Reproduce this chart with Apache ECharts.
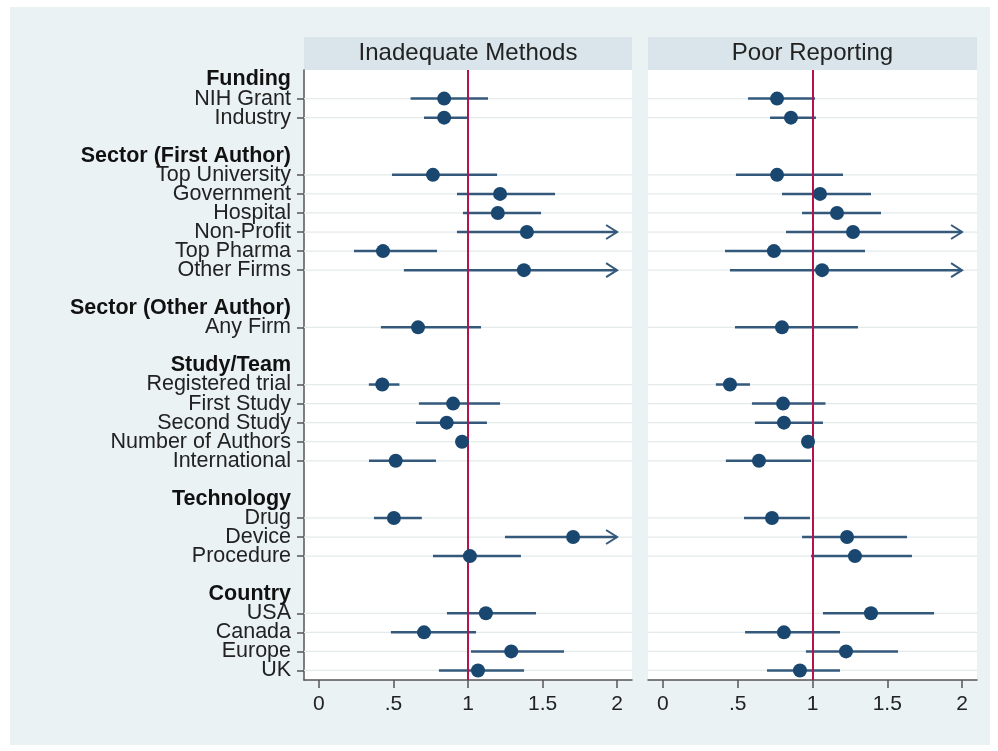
<!DOCTYPE html>
<html>
<head>
<meta charset="utf-8">
<script src="https://cdn.jsdelivr.net/npm/echarts@6/dist/echarts.min.js"></script>
<style>
html,body{margin:0;padding:0;background:#fff;}
#chart{width:998px;height:751px;}
</style>
</head>
<body>
<div id="chart"></div>
<script>
// ---- data ----
const panelTitles = ['Inadequate Methods', 'Poor Reporting'];
const groupNames = ['Funding', 'Sector (First Author)', 'Sector (Other Author)', 'Study/Team', 'Technology', 'Country'];
const groupItems = [
  ['NIH Grant', 'Industry'],
  ['Top University', 'Government', 'Hospital', 'Non-Profit', 'Top Pharma', 'Other Firms'],
  ['Any Firm'],
  ['Registered trial', 'First Study', 'Second Study', 'Number of Authors', 'International'],
  ['Drug', 'Device', 'Procedure'],
  ['USA', 'Canada', 'Europe', 'UK']
];
// Inadequate Methods (order of items above); upper CI of 2 = truncated (arrow)
const methodsEst = [0.84, 0.84, 0.765, 1.215, 1.20, 1.395, 0.43, 1.375, 0.665, 0.425, 0.90, 0.857, 0.96, 0.515, 0.503, 1.705, 1.013, 1.12, 0.705, 1.29, 1.067];
const methodsLo  = [0.615, 0.705, 0.49, 0.926, 0.966, 0.926, 0.235, 0.57, 0.416, 0.335, 0.671, 0.651, 0.95, 0.336, 0.369, 1.248, 0.765, 0.859, 0.483, 1.02, 0.805];
const methodsHi  = [1.134, 1.0, 1.195, 1.584, 1.49, 2.0, 0.792, 2.0, 1.087, 0.54, 1.215, 1.127, 0.97, 0.785, 0.69, 2.0, 1.355, 1.456, 1.054, 1.644, 1.376];
// Poor Reporting
const reportEst = [0.763, 0.856, 0.763, 1.05, 1.164, 1.271, 0.742, 1.064, 0.796, 0.448, 0.803, 0.809, 0.97, 0.642, 0.729, 1.231, 1.284, 1.391, 0.809, 1.224, 0.916];
const reportLo  = [0.569, 0.716, 0.488, 0.796, 0.93, 0.823, 0.415, 0.448, 0.482, 0.354, 0.595, 0.615, 0.96, 0.421, 0.542, 0.93, 0.99, 1.07, 0.549, 0.956, 0.696];
const reportHi  = [1.017, 1.023, 1.204, 1.391, 1.458, 2.0, 1.351, 2.0, 1.304, 0.582, 1.087, 1.07, 0.98, 0.99, 0.983, 1.632, 1.665, 1.813, 1.184, 1.572, 1.184];
const xTicks = [0, 0.5, 1, 1.5, 2];
const refLine = 1;

// ---- build rows ----
const rows = [];
groupNames.forEach((g, gi) => {
  rows.push({text: g, type: 'header'});
  groupItems[gi].forEach(it => rows.push({text: it, type: 'item'}));
  if (gi < groupNames.length - 1) rows.push({text: '', type: 'blank'});
});
const itemRows = [];
rows.forEach((r, i) => { if (r.type === 'item') itemRows.push(i); });
const cats = rows.map((r, i) => String(i));

const XMIN = -0.1, XMAX = 2.1, CLIP = 2;
const navy = '#1A476F', ciColor = '#34597B', refColor = '#B5134B';
const FONT = 'Liberation Sans, Arial, sans-serif';

function gridLineSeries(idx) {
  return {
    type: 'custom', xAxisIndex: idx, yAxisIndex: idx, silent: true, z: 1,
    data: itemRows.map(r => [0, r]),
    encode: {x: 0, y: 1},
    renderItem: function (params, api) {
      const cs = params.coordSys;
      const p = api.coord([0, api.value(1)]);
      return {type: 'line', shape: {x1: cs.x, y1: p[1], x2: cs.x + cs.width, y2: p[1]},
        style: {stroke: '#E4EAEB', lineWidth: 1.2}};
    }
  };
}
function ciSeries(idx, lo, hi) {
  const data = itemRows.map((r, k) => [lo[k], hi[k], r]);
  return {
    type: 'custom', xAxisIndex: idx, yAxisIndex: idx, silent: true, z: 3,
    data: data,
    encode: {x: [0, 1], y: 2},
    renderItem: function (params, api) {
      const l = api.value(0), h = api.value(1), r = api.value(2);
      const hc = Math.min(h, CLIP);
      const p1 = api.coord([l, r]), p2 = api.coord([hc, r]);
      const children = [{
        type: 'line', shape: {x1: p1[0], y1: p1[1], x2: p2[0], y2: p2[1]},
        style: {stroke: ciColor, lineWidth: 2.5}
      }];
      if (h >= CLIP) {
        children.push({
          type: 'polyline',
          shape: {points: [[p2[0] - 11, p2[1] - 7], [p2[0], p2[1]], [p2[0] - 11, p2[1] + 7]]},
          style: {stroke: ciColor, lineWidth: 2, fill: null}
        });
      }
      return {type: 'group', children: children};
    }
  };
}
function ptSeries(idx, est) {
  return {
    type: 'scatter', xAxisIndex: idx, yAxisIndex: idx, silent: true, z: 5,
    symbol: 'circle', symbolSize: 14,
    itemStyle: {color: navy, opacity: 1},
    data: itemRows.map((r, k) => [est[k], r]),
    markLine: {
      silent: true, symbol: ['none', 'none'], label: {show: false},
      lineStyle: {color: refColor, width: 2, type: 'solid'},
      emphasis: {disabled: true},
      data: [{xAxis: refLine}]
    }
  };
}

const gridTop = 70, gridBottom = 71;
const grids = [
  {left: 304, width: 328, top: gridTop, bottom: gridBottom, show: true, backgroundColor: '#ffffff', borderWidth: 0},
  {left: 648, width: 329, top: gridTop, bottom: gridBottom, show: true, backgroundColor: '#ffffff', borderWidth: 0}
];
function xAxis(idx) {
  return {
    type: 'value', gridIndex: idx, min: XMIN, max: XMAX,
    axisLine: {show: true, onZero: false, lineStyle: {color: '#555', width: 1.5}},
    axisTick: {show: true, customValues: xTicks, length: 8, lineStyle: {color: '#555', width: 1.5}},
    axisLabel: {show: true, customValues: xTicks, margin: 14, fontSize: 21, color: '#222',
      fontFamily: FONT,
      formatter: v => { const s = String(v); return s.startsWith('0.') ? s.slice(1) : s; }},
    splitLine: {show: false}
  };
}
function yAxis(idx) {
  return {
    type: 'category', gridIndex: idx, data: cats, inverse: true,
    axisLine: {show: idx === 0, onZero: false, lineStyle: {color: '#555', width: 1.5}},
    axisTick: {show: idx === 0, alignWithLabel: true, length: 7, lineStyle: {color: '#555', width: 1.5},
      interval: (i) => rows[i].type === 'item'},
    axisLabel: {show: idx === 0, interval: 0, margin: 13, fontSize: 21.5, color: '#222',
      fontFamily: FONT,
      formatter: (v) => { const r = rows[+v]; return r.type === 'header' ? '{b|' + r.text + '}' : r.text; },
      rich: {b: {fontWeight: 'bold', fontSize: 21.5, color: '#111', fontFamily: FONT}}},
    splitLine: {show: false},
    splitArea: {show: false}
  };
}

const graphics = [
  {type: 'rect', shape: {x: 10, y: 7, width: 980, height: 738}, style: {fill: '#EAF2F3'}, z: -10, silent: true}
];
grids.forEach((g, i) => {
  graphics.push({type: 'rect', shape: {x: g.left, y: 37, width: g.width, height: 33}, style: {fill: '#D9E5EA'}, z: -5, silent: true});
  graphics.push({type: 'text', x: g.left + g.width / 2, y: 53.5, style: {text: panelTitles[i], fontSize: 24, fill: '#222',
    fontFamily: FONT, align: 'center', verticalAlign: 'middle'}, z: 5, silent: true});
});

const chart = echarts.init(document.getElementById('chart'), null, {renderer: 'canvas'});
chart.setOption({
  animation: false,
  backgroundColor: '#ffffff',
  graphic: graphics,
  grid: grids,
  xAxis: [xAxis(0), xAxis(1)],
  yAxis: [yAxis(0), yAxis(1)],
  series: [
    gridLineSeries(0), gridLineSeries(1),
    ciSeries(0, methodsLo, methodsHi), ptSeries(0, methodsEst),
    ciSeries(1, reportLo, reportHi), ptSeries(1, reportEst)
  ]
});
</script>
</body>
</html>
